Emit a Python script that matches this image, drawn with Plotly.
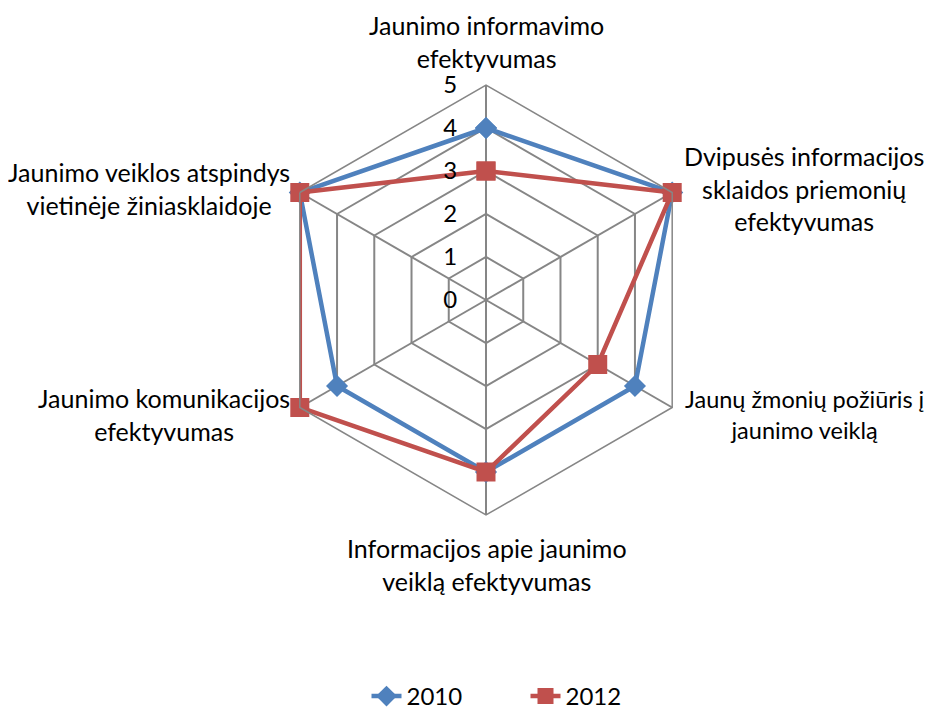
import plotly.graph_objects as go

categories = [
    "Jaunimo informavimo<br>efektyvumas",
    "Dvipusės informacijos<br>sklaidos priemonių<br>efektyvumas",
    "Jaunų žmonių požiūris į<br>jaunimo veiklą",
    "Informacijos apie jaunimo<br>veiklą efektyvumas",
    "Jaunimo komunikacijos<br>efektyvumas",
    "Jaunimo veiklos atspindys<br>vietinėje žiniasklaidoje",
]
values_2010 = [4, 5, 4, 4, 4, 5]
values_2012 = [3, 5, 3, 4, 5, 5]
radial_ticks = [0, 1, 2, 3, 4, 5]

FONT = "Lato, Open Sans, sans-serif"
W, H = 935, 711

fig = go.Figure()
fig.add_trace(go.Scatterpolar(
    r=values_2010 + values_2010[:1], theta=categories + categories[:1],
    name="2010", mode="lines+markers",
    line=dict(color="#4F81BD", width=4.5),
    marker=dict(symbol="diamond", size=17, color="#4F81BD"),
))
fig.add_trace(go.Scatterpolar(
    r=values_2012 + values_2012[:1], theta=categories + categories[:1],
    name="2012", mode="lines+markers",
    line=dict(color="#C0504D", width=4.5),
    marker=dict(symbol="square", size=19, color="#C0504D"),
))

# category labels as centred annotations (positions in pixels of the figure)
label_pos = [
    (478, 66, "center", "bottom", 25),
    (675, 180, "left", "middle", 25),
    (676, 406, "left", "middle", 23.5),
    (479, 524, "center", "top", 25),
    (283, 406, "right", "middle", 25),
    (283, 180, "right", "middle", 25),
]
annotations = []
for text, (px, py, xa, ya, fs) in zip(categories, label_pos):
    annotations.append(dict(
        text=text, x=px / W, y=1 - py / H, xref="paper", yref="paper",
        xanchor=xa, yanchor=ya, align="center", showarrow=False, borderpad=0,
        font=dict(family=FONT, size=fs, color="black"),
    ))

cx, cy, R = 478, 292, 215
fig.update_layout(
    width=W, height=H,
    paper_bgcolor="white", plot_bgcolor="white",
    margin=dict(l=0, r=0, t=0, b=0),
    font=dict(family=FONT, size=24, color="black"),
    annotations=annotations,
    polar=dict(
        domain=dict(x=[(cx - R) / W, (cx + R) / W], y=[1 - (cy + R) / H, 1 - (cy - R) / H]),
        gridshape="linear",
        bgcolor="white",
        angularaxis=dict(
            direction="clockwise", rotation=90,
            showline=True, linecolor="#868686", linewidth=1.5,
            gridcolor="#868686", gridwidth=1.5,
            ticks="", showticklabels=False,
        ),
        radialaxis=dict(
            range=[0, 5], tickvals=radial_ticks, angle=90, side="counterclockwise",
            showline=False, gridcolor="#868686", gridwidth=1.5,
            ticks="outside", ticklen=20, tickcolor="rgba(0,0,0,0)",
            tickfont=dict(family=FONT, size=24, color="black"),
            tickangle=90,
        ),
    ),
    legend=dict(
        orientation="h", x=0.5 + 50 / W, xanchor="center", y=0.0, yanchor="bottom",
        font=dict(family=FONT, size=24, color="black"),
        entrywidth=114,
    ),
)

fig.write_html("out.html")
